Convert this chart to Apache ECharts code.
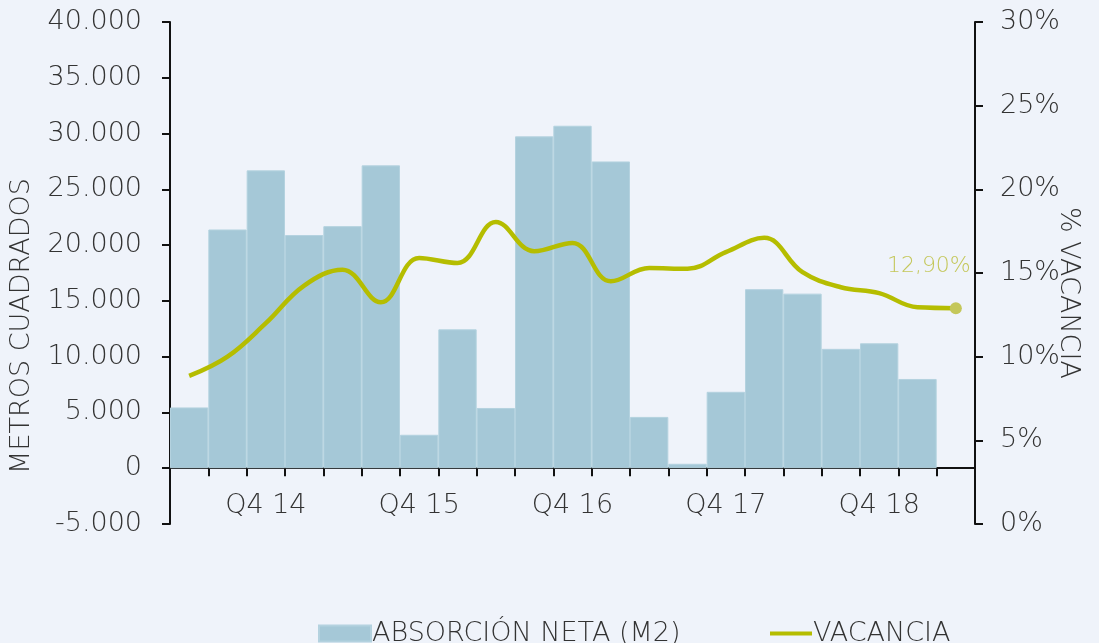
<!DOCTYPE html>
<html>
<head>
<meta charset="utf-8">
<script src="https://cdn.jsdelivr.net/npm/echarts@6/dist/echarts.min.js"></script>
<style>
  html, body { margin: 0; padding: 0; background: #EFF3FA; }
  #chart { width: 1099px; height: 643px; }
</style>
</head>
<body>
<div id="chart"></div>
<script>
const quarters = ['Q2 14', 'Q3 14', 'Q4 14', 'Q1 15', 'Q2 15', 'Q3 15', 'Q4 15', 'Q1 16', 'Q2 16', 'Q3 16', 'Q4 16',
  'Q1 17', 'Q2 17', 'Q3 17', 'Q4 17', 'Q1 18', 'Q2 18', 'Q3 18', 'Q4 18', 'Q1 19', 'Q2 19'];
const absorcion = [5450, 21400, 26700, 20900, 21700, 27150, 3000, 12450, 5400, 29750, 30700,
  27500, 4600, 400, 6850, 16050, 15650, 10700, 11200, 8000, null];
const vacancia = [8.85, 10.0, 12.0, 14.25, 15.2, 13.25, 15.9, 15.6, 18.05, 16.3, 16.8,
  14.5, 15.3, 15.25, 16.25, 17.1, 15.05, 14.15, 13.8, 12.95, 12.9];
const leftTicks = { min: -5000, max: 40000, step: 5000 };
const rightTicks = { min: 0, max: 30, step: 5 };

const font = 'DejaVu Sans';
const fw = 200;
const fs = 27;
const txt = '#333333';

function fmtMiles(v) {
  const s = String(Math.abs(v)).replace(/\B(?=(\d{3})+(?!\d))/g, '.');
  return (v < 0 ? '-' : '') + s;
}

const chart = echarts.init(document.getElementById('chart'));

const lastIdx = vacancia.length - 1;
const lineData = vacancia.map((v, i) => i === lastIdx ? {
  value: v,
  symbol: 'circle',
  symbolSize: 12,
  itemStyle: { color: '#C4C75A' },
  label: {
    show: true,
    position: 'top',
    offset: [-27, -20],
    formatter: (p) => p.value.toFixed(2).replace('.', ',') + '%',
    color: '#C4C75A',
    fontFamily: font,
    fontWeight: fw,
    fontSize: 22
  }
} : v);

const option = {
  backgroundColor: '#EFF3FA',
  textStyle: { fontFamily: font },
  animation: false,
  grid: { left: 170, right: 124, top: 22, bottom: 119 },
  legend: [
    {
      data: ['ABSORCIÓN NETA (M2)'],
      left: 313, top: 615,
      icon: 'rect', itemWidth: 52, itemHeight: 16, itemGap: 5,
      textStyle: { color: txt, fontSize: fs, fontWeight: fw, fontFamily: font, padding: [0, 0, 0, -4] }
    },
    {
      data: ['VACANCIA'],
      left: 765, top: 615,
      icon: 'rect', itemWidth: 42, itemHeight: 4,
      itemStyle: { color: '#B5BD00' },
      textStyle: { color: txt, fontSize: fs, fontWeight: fw, fontFamily: font, padding: [0, 0, 0, -4] }
    }
  ],
  xAxis: {
    type: 'category',
    data: quarters,
    axisLine: { onZero: true, lineStyle: { color: '#111', width: 2 } },
    axisTick: { show: true, interval: 0, length: 8, lineStyle: { color: '#111', width: 2 } },
    axisLabel: {
      interval: (i, v) => v.indexOf('Q4') === 0,
      color: txt, fontSize: fs, fontWeight: fw, margin: -32
    }
  },
  yAxis: [
    {
      type: 'value',
      min: leftTicks.min, max: leftTicks.max, interval: leftTicks.step,
      axisLine: { show: true, lineStyle: { color: '#111', width: 2 } },
      axisTick: { show: true, length: 8, lineStyle: { color: '#111', width: 2 } },
      splitLine: { show: false },
      axisLabel: { formatter: fmtMiles, color: txt, fontSize: fs, fontWeight: fw, margin: 28 }
    },
    {
      type: 'value',
      position: 'right',
      min: rightTicks.min, max: rightTicks.max, interval: rightTicks.step,
      axisLine: { show: true, lineStyle: { color: '#111', width: 2 } },
      axisTick: { show: true, length: 8, lineStyle: { color: '#111', width: 2 } },
      splitLine: { show: false },
      axisLabel: { formatter: '{value}%', color: txt, fontSize: fs, fontWeight: fw, margin: 25 }
    }
  ],
  graphic: [
    {
      type: 'text', x: 22, y: 326, rotation: Math.PI / 2,
      style: { text: 'METROS CUADRADOS', fill: txt, font: fw + ' ' + fs + 'px "' + font + '"', align: 'center', verticalAlign: 'middle' }
    },
    {
      type: 'text', x: 1068, y: 293, rotation: -Math.PI / 2,
      style: { text: '% VACANCIA', fill: txt, font: fw + ' ' + fs + 'px "' + font + '"', align: 'center', verticalAlign: 'middle' }
    }
  ],
  series: [
    {
      name: 'ABSORCIÓN NETA (M2)',
      type: 'bar',
      data: absorcion,
      barWidth: '100%',
      barCategoryGap: '0%',
      itemStyle: { color: '#A5C8D7', borderColor: '#B4D2DF', borderWidth: 1 }
    },
    {
      name: 'VACANCIA',
      type: 'line',
      yAxisIndex: 1,
      data: lineData,
      smooth: 0.4,
      symbol: 'none',
      lineStyle: { color: '#B5BD00', width: 4.5 },
      itemStyle: { color: '#B5BD00' },
      z: 5
    }
  ]
};

chart.setOption(option);
</script>
</body>
</html>
